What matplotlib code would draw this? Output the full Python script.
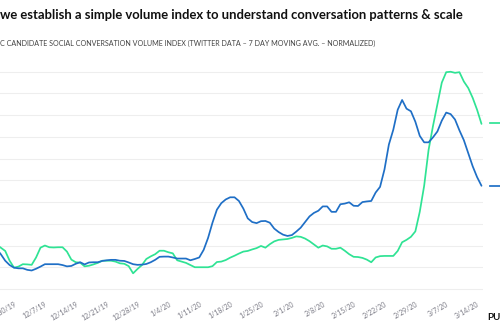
import numpy as np
import pandas as pd
import matplotlib
matplotlib.use("Agg")
import matplotlib.pyplot as plt

plt.rcParams['font.family'] = ['Lato', 'DejaVu Sans']

# --- data (daily, 7 day moving avg., normalized 0-100) ---
start = pd.Timestamp('2019-11-26')
dates = pd.date_range(start, '2020-03-15', freq='D')

green_vals = [
    20.5, 19.0, 17.5, 13.0, 9.8, 10.3, 11.4, 11.3, 11.1, 14.5,
    19.0, 20.0, 19.2, 19.1, 19.2, 19.2, 17.2, 13.5, 12.3, 12.1,
    10.4, 10.7, 11.3, 12.0, 13.0, 13.0, 13.0, 12.6, 11.8, 11.6,
    10.5, 7.2, 9.2, 11.0, 13.8, 15.0, 16.0, 17.6, 17.6, 16.9,
    16.4, 13.2, 12.6, 12.0, 11.0, 10.0, 10.0, 10.0, 10.0, 10.5,
    12.4, 12.6, 13.3, 14.4, 15.3, 16.3, 17.2, 17.5, 18.2, 18.8,
    19.8, 19.0, 20.6, 21.9, 22.6, 22.8, 23.0, 23.5, 24.2, 24.0,
    23.2, 22.0, 20.5, 19.0, 20.0, 19.6, 18.5, 18.5, 19.0, 17.6,
    16.0, 14.8, 14.7, 14.3, 13.5, 12.3, 14.5, 15.1, 15.2, 15.2,
    15.2, 17.5, 21.5, 22.6, 24.0, 26.5, 35.5, 47.5, 64.0, 75.0,
    85.0, 95.0, 99.8, 100.0, 99.5, 99.8, 95.5, 92.5, 88.0, 82.5,
    76.0,
]

blue_vals = [
    18.5, 16.0, 13.0, 11.0, 9.8, 9.5, 9.5, 8.8, 8.5, 9.3,
    10.3, 11.4, 11.4, 11.4, 11.4, 11.0, 10.4, 10.6, 11.6, 12.3,
    11.3, 12.2, 12.3, 12.3, 12.9, 13.2, 13.4, 13.4, 13.0, 12.9,
    12.2, 11.4, 11.1, 11.2, 11.5, 12.3, 13.4, 14.8, 14.9, 14.9,
    14.5, 14.0, 14.0, 14.0, 13.2, 13.8, 14.5, 18.0, 23.5, 30.5,
    36.5, 39.5, 41.2, 42.2, 42.2, 40.5, 37.0, 32.5, 30.8, 30.3,
    31.2, 31.3, 30.5, 27.8, 26.2, 25.0, 24.4, 24.8, 26.4, 28.2,
    30.8, 33.4, 35.0, 36.0, 38.0, 38.0, 35.5, 35.5, 39.0, 39.3,
    39.9, 38.3, 38.2, 40.0, 40.3, 40.5, 44.4, 47.0, 55.0, 66.5,
    73.3, 82.5, 87.0, 83.0, 81.8, 77.0, 70.5, 67.5, 67.5, 69.8,
    72.5, 77.5, 81.2, 80.5, 78.0, 73.0, 68.5, 62.5, 56.5, 51.5,
    47.5,
]

tick_dates = pd.date_range('2019-11-30', '2020-03-14', freq='7D')
tick_labels = [f"{d.month}/{d.day}/{d.strftime('%y')}" for d in tick_dates]

green = '#2fe394'
blue = '#1f6fc6'

# --- figure ---
fig = plt.figure(figsize=(5, 3.3), dpi=100)
px_per_day = 4.41
ax_left_px, ax_right_px = -50, 483
ax = fig.add_axes([ax_left_px / 500, 36.7 / 330, (ax_right_px - ax_left_px) / 500, 225.9 / 330])

ax.plot(dates, green_vals, color=green, lw=1.25, solid_capstyle='round')
ax.plot(dates, blue_vals, color=blue, lw=1.25, solid_capstyle='round')

# x mapping: 11/27 sits at pixel 0.8
ref = pd.Timestamp('2019-11-27')
xl = ref + pd.Timedelta(days=(ax_left_px - 0.8) / px_per_day)
xr = ref + pd.Timedelta(days=(ax_right_px - 0.8) / px_per_day)
ax.set_xlim(xl, xr)
ax.set_ylim(-2, 102)

# end-of-line markers to the right
e0 = ref + pd.Timedelta(days=(490 - 0.8) / px_per_day)
e1 = ref + pd.Timedelta(days=(505 - 0.8) / px_per_day)
ax.plot([e0, e1], [green_vals[-1] + 0.5] * 2, color=green, lw=1.25, clip_on=False)
ax.plot([e0, e1], [blue_vals[-1]] * 2, color=blue, lw=1.25, clip_on=False)

ax.set_yticks(np.arange(0, 101, 10))
ax.set_yticklabels([])
ax.grid(True, axis='y', color='#eeeeee', lw=0.8)
ax.set_axisbelow(True)
ax.tick_params(axis='y', length=0)

ax.set_xticks(tick_dates)
ax.set_xticklabels(tick_labels, rotation=30, ha='right', rotation_mode='anchor',
                   fontsize=5, color='#7a7a85')
ax.tick_params(axis='x', length=0, pad=5)

for s in ax.spines.values():
    s.set_visible(False)

# texts
fig.text(0.0, 1 - 15 / 330, "we establish a simple volume index to understand conversation patterns & scale",
         fontsize=9.35, fontweight='bold', color='#111111', va='center', ha='left')
fig.text(0.0, 1 - 43 / 330, "C CANDIDATE SOCIAL CONVERSATION VOLUME INDEX (TWITTER DATA \u2013 7 DAY MOVING AVG. \u2013 NORMALIZED)",
         fontsize=5.1, color='#444444', va='center', ha='left')
fig.text(487 / 500, 1 - 318 / 330, "PU", fontsize=7, fontweight='bold', color='#111111',
         va='center', ha='left')

fig.savefig('out.png', dpi=100)
